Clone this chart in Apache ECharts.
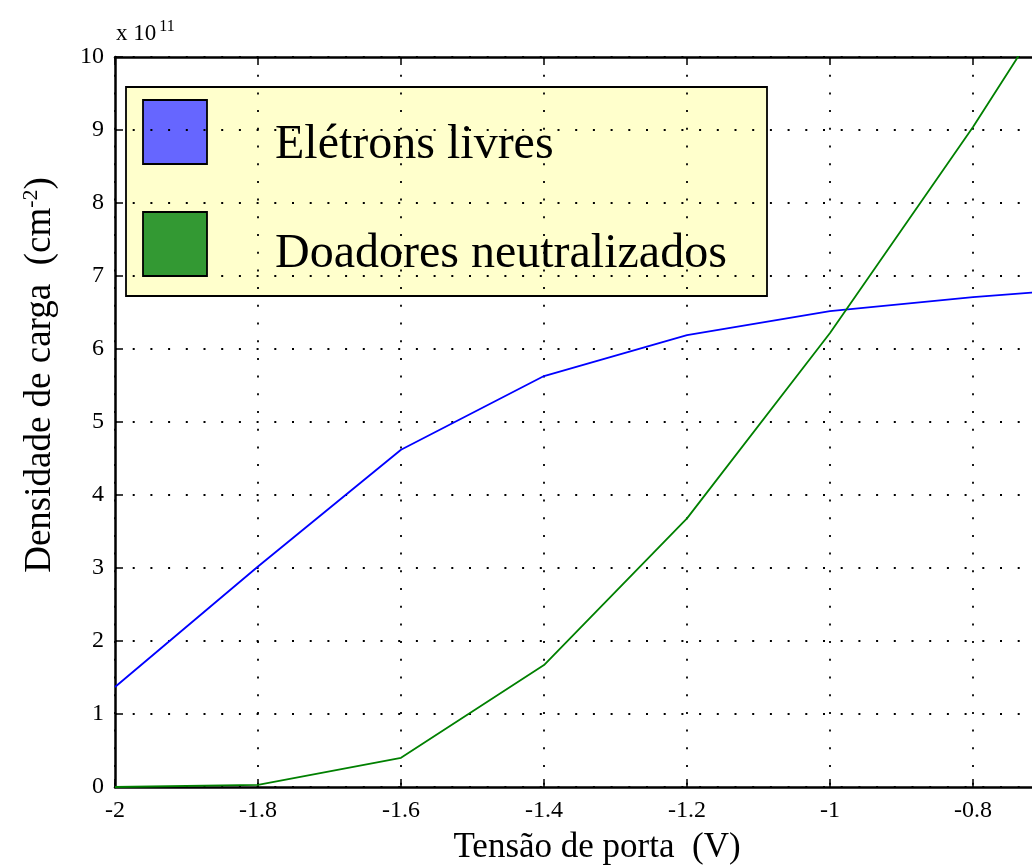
<!DOCTYPE html>
<html>
<head>
<meta charset="utf-8">
<script src="https://cdn.jsdelivr.net/npm/echarts@6/dist/echarts.min.js"></script>
<style>
  html, body { margin: 0; padding: 0; background: #fff; overflow: hidden; }
  /* the plot box continues past the right edge of the window */
  #chart { width: 1200px; height: 867px; }
</style>
</head>
<body>
<div id="chart"></div>
<script>
// Gate voltage (V) and charge densities (units of 1e11 cm^-2)
const gateVoltage = [-2.0, -1.8, -1.6, -1.4, -1.2, -1.0, -0.8, -0.6];
const freeElectrons = [1.37, 3.02, 4.62, 5.63, 6.19, 6.52, 6.71, 6.86];
const neutralizedDonors = [0.0, 0.03, 0.40, 1.67, 3.68, 6.22, 9.04, 12.1];
const legendNames = ['Elétrons livres', 'Doadores neutralizados'];
const xTitle = 'Tensão de porta  (V)';
const yTitle = 'Densidade de carga  (cm';

const FONT = '"Liberation Serif", "Times New Roman", serif';

const chart = echarts.init(document.getElementById('chart'), null, { renderer: 'canvas' });

function pairs(xs, ys) { return xs.map((x, i) => [x, ys[i]]); }

const gridLine = { show: true, lineStyle: { color: '#000', width: 1.8, type: [2, 15.7] } };
const tick = { show: true, inside: true, length: 8, lineStyle: { color: '#000', width: 1.5 } };
const axisLine = { show: true, onZero: false, lineStyle: { color: '#000', width: 2.5 } };

chart.setOption({
  animation: false,
  backgroundColor: '#fff',
  grid: { left: 115, top: 57, width: 1001, height: 730, containLabel: false },
  xAxis: [{
    type: 'value', min: -2, max: -0.6, interval: 0.2,
    axisLine: axisLine, axisTick: tick,
    axisLabel: { fontFamily: FONT, fontSize: 24, color: '#000', margin: 12,
      formatter: v => String(Math.round(v * 10) / 10) },
    splitLine: gridLine
  }, {
    type: 'value', position: 'top', min: -2, max: -0.6, interval: 0.2,
    axisLine: axisLine, axisTick: tick,
    axisLabel: { show: false }, splitLine: { show: false }
  }],
  yAxis: {
    type: 'value', min: 0, max: 10, interval: 1,
    axisLine: axisLine, axisTick: tick,
    axisLabel: { fontFamily: FONT, fontSize: 24, color: '#000', margin: 11 },
    splitLine: gridLine
  },
  series: [{
    name: legendNames[0], type: 'line', data: pairs(gateVoltage, freeElectrons),
    showSymbol: false, clip: true, lineStyle: { color: '#0000ff', width: 1.8 }, z: 3
  }, {
    name: legendNames[1], type: 'line', data: pairs(gateVoltage, neutralizedDonors),
    showSymbol: false, clip: true, lineStyle: { color: '#008000', width: 1.8 }, z: 3
  }],
  graphic: [
    // exponent of the y scale
    { type: 'text', x: 116, y: 34,
      style: { text: '{a|x 10}{b|11}', verticalAlign: 'middle', rich: {
        a: { fontFamily: FONT, fontSize: 23, fill: '#000' },
        b: { fontFamily: FONT, fontSize: 16, fill: '#000', verticalAlign: 'bottom', padding: [0, 0, 14, 3] }
      } } },
    // axis titles
    { type: 'text', x: 597, y: 848,
      style: { text: xTitle, fontFamily: FONT, fontSize: 35, fill: '#000', align: 'center', verticalAlign: 'middle' } },
    { type: 'text', x: 40, y: 375, rotation: Math.PI / 2,
      style: { text: '{t|' + yTitle + '}{s|-2}{t|)}', align: 'center', verticalAlign: 'middle', rich: {
        t: { fontFamily: FONT, fontSize: 37, fill: '#000' },
        s: { fontFamily: FONT, fontSize: 22, fill: '#000', verticalAlign: 'bottom', padding: [0, 0, 17, 0] }
      } } },
    // legend box
    { type: 'group', x: 126, y: 87, z: 10, children: [
      { type: 'rect', shape: { x: 0, y: 0, width: 641, height: 209 },
        style: { fill: '#ffffcc', stroke: '#000', lineWidth: 1.8 } },
      { type: 'rect', shape: { x: 17, y: 13, width: 64, height: 64 },
        style: { fill: '#6666ff', stroke: '#000', lineWidth: 1.8 } },
      { type: 'rect', shape: { x: 17, y: 125, width: 64, height: 64 },
        style: { fill: '#339933', stroke: '#000', lineWidth: 1.8 } },
      { type: 'text', x: 149, y: 58, style: { text: legendNames[0], fontFamily: FONT, fontSize: 48,
        fill: '#000', verticalAlign: 'middle' } },
      { type: 'text', x: 149, y: 167, style: { text: legendNames[1], fontFamily: FONT, fontSize: 48,
        fill: '#000', verticalAlign: 'middle' } }
    ] }
  ]
});
</script>
</body>
</html>
